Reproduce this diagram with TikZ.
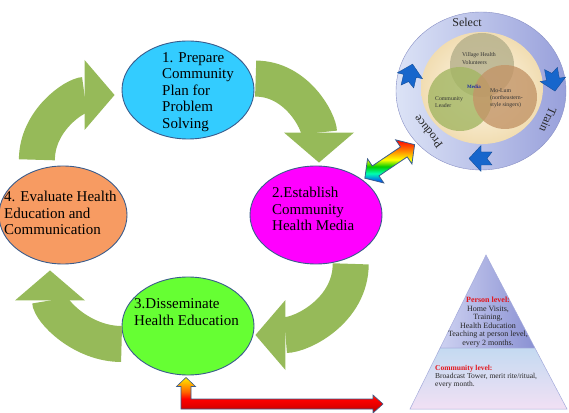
\documentclass[tikz,border=0pt]{standalone}
\usepackage{fontspec}
\setmainfont{Liberation Serif}
\usepackage{tikz}
\usetikzlibrary{arrows.meta,calc,positioning,shapes.geometric}

\definecolor{stageline}{HTML}{3A5C8C}
\definecolor{plancyan}{HTML}{33CCFF}
\definecolor{mediamag}{HTML}{FF00FF}
\definecolor{dissgreen}{HTML}{66FF33}
\definecolor{evalorange}{HTML}{F79B62}
\definecolor{cyclegreen}{HTML}{96BA59}
\definecolor{ringlight}{HTML}{DCE3F6}
\definecolor{ringdark}{HTML}{98A0DB}
\definecolor{creamin}{HTML}{FFF9EC}
\definecolor{creamout}{HTML}{F1DDB2}
\definecolor{vennvol}{HTML}{B4AF8A}
\definecolor{vennlead}{HTML}{A3B663}
\definecolor{vennlum}{HTML}{C39568}
\definecolor{mediablue}{HTML}{1F2FA0}
\definecolor{flowblue}{HTML}{1766CC}
\definecolor{lvlred}{HTML}{E3141B}
\definecolor{pyrtopL}{HTML}{CDD1F1}
\definecolor{pyrtopR}{HTML}{8A91D3}
\definecolor{pyrbotT}{HTML}{C4DAF1}
\definecolor{pyrbotB}{HTML}{F1E0F4}
\definecolor{pyrline}{HTML}{A4AADB}

\pgfdeclareverticalshading{rainbow}{100bp}{color(0bp)=(blue!80!cyan); color(25bp)=(blue!80!cyan);
	color(36bp)=(cyan!70!green); color(44bp)=(green!80!black); color(52bp)=(yellow);
	color(63bp)=(orange); color(75bp)=(red); color(100bp)=(red)}
\pgfdeclareverticalshading{elbow}{100bp}{color(0bp)=(red!70!black); color(25bp)=(red!70!black);
	color(36bp)=(red!90!black); color(45bp)=(red); color(55bp)=(orange!80!red);
	color(75bp)=(yellow!85!orange); color(100bp)=(yellow!85!orange)}

\tikzset{
	stage/.style={ellipse, draw=stageline, line width=.9pt, minimum width=132pt,
		minimum height=98pt, inner sep=0pt},
	stage text/.style={font=\fontsize{15}{16.5}\selectfont, align=left, inner sep=0pt, anchor=west},
	cycle arrow/.style={draw=cyclegreen, line width=36pt,
		-{Triangle[width=70pt,length=30pt,line width=0pt]}},
	venn set/.style={circle, minimum size=64pt, inner sep=0pt, fill opacity=.8},
	venn text/.style={font=\fontsize{5.8}{7.2}\selectfont, align=left, inner sep=0pt,
		anchor=west, text=black!80},
	ring text/.style={font=\fontsize{12}{12}\selectfont, inner sep=0pt, text=black!85},
	flow arrow/.style={fill=flowblue, draw=flowblue!70!black, line width=.3pt},
	pyr text/.style={font=\fontsize{8}{8.6}\selectfont, inner sep=0pt, text=black!85},
	link/.style={draw=stageline, line width=.8pt}
}

\begin{document}
\begin{tikzpicture}[x=1pt, y=1pt]
	\useasboundingbox (0,0) rectangle (569,412);

	% the four stages
	\node[stage, fill=plancyan] (S1) at (188,322) {};
	\node[stage, fill=mediamag] (S2) at (316,197) {};
	\node[stage, fill=dissgreen] (S3) at (188,86) {};
	\node[stage, fill=evalorange, minimum width=128pt] (S4) at (63,197) {};
	\node[stage text] (S1t) at ([shift={(-26,-2)}]S1.center) {1. Prepare\\Community\\Plan for\\Problem\\Solving};
	\node[stage text] (S2t) at ([shift={(-44,6)}]S2.center) {2.Establish\\Community\\Health Media};
	\node[stage text] (S3t) at ([shift={(-54,14)}]S3.center) {3.Disseminate\\Health Education};
	\node[stage text] (S4t) at ([shift={(-59,2)}]S4.center) {4. Evaluate Health\\Education and\\Communication};

	% cycle arrows
	\draw[cycle arrow] ([yshift=10]S4.120) to[out=90,in=180] ([shift={(-7,-5)}]S1.west);
	\draw[cycle arrow] ([xshift=3]S1.10) to[out=0,in=90] ([shift={(3,3)}]S2.north);
	\draw[cycle arrow] ([shift={(4,-5)}]S2.-55) to[out=-90,in=0] ([shift={(1,-9)}]S3.east);
	\draw[cycle arrow] ([yshift=-18]S3.west) to[out=180,in=-90] ([shift={(-13,-6)}]S4.south);

	% media circle
	\node[ellipse, minimum width=170pt, minimum height=158pt, inner sep=0pt,
		left color=ringlight, right color=ringdark, draw=ringdark!90!black, line width=.4pt] (V) at (481,321) {};
	\node[ellipse, minimum width=122pt, minimum height=112pt, inner sep=0pt,
		inner color=creamin, outer color=creamout] (C) at (482,324) {};
	\node[venn set, fill=vennvol] (Vv) at (482,347) {};
	\node[venn set, fill=vennlead] (Vl) at (460,313) {};
	\node[venn set, fill=vennlum] (Vm) at (505,315) {};
	\node[venn text] at (462,353.5) {Village Health\\Volunteers};
	\node[venn text, anchor=center, font=\fontsize{5}{6}\selectfont\bfseries, text=mediablue] at (474,325) {Media};
	\node[venn text] at (435,310) {Community\\Leader};
	\node[venn text] at (490,313.5) {Mo-Lum\\(northeastern-\\style singers)};
	\node[ring text] at (467,390) {Select};
	\node[ring text, rotate=-114] at (548,292) {Train};
	\node[ring text, rotate=128] at (428,280) {Produce};
	\foreach \a/\d in {167/77, 10/-80, -90/180}
		\filldraw[flow arrow, shift={($(V.center)+(\a:73 and 67.5)$)}, rotate=\d]
			(12,0) -- (0,13) -- (0,6.5) -- (-11,6.5) -- (-6,0) -- (-11,-6.5) -- (0,-6.5) -- (0,-13) -- cycle;

	% link between stage 2 and the media circle
	\begin{scope}[shift={($(S2.37)!.5!(V.219)$)}, rotate=34]
		\shadedraw[shading=rainbow, link] (30,0) -- (17,14.5) -- (17,6) -- (-17,6) -- (-17,14.5)
			-- (-30,0) -- (-17,-14.5) -- (-17,-6) -- (17,-6) -- (17,-14.5) -- cycle;
	\end{scope}

	% levels pyramid
	\coordinate (P1) at (410,3);
	\coordinate (P2) at (567,3);
	\coordinate (P3) at (486,157);
	\coordinate (Q1) at ($(P1)!.396!(P3)$);
	\coordinate (Q2) at ($(P2)!.396!(P3)$);
	\shadedraw[left color=pyrtopL, right color=pyrtopR, draw=pyrline, line width=.5pt] (Q1) -- (P3) -- (Q2) -- cycle;
	\shadedraw[top color=pyrbotT, bottom color=pyrbotB, draw=pyrline, line width=.5pt] (P1) -- (P2) -- (Q2) -- (Q1) -- cycle;
	\node[pyr text, align=center] (Pp) at (488,90) {\textcolor{lvlred}{\textbf{Person level:}}\\Home Visits,\\Training,\\Health Education\\Teaching at person level,\\every 2 months.};
	\node[pyr text, align=left, anchor=west, font=\fontsize{7.5}{8}\selectfont] (Pc) at (435,35) {\textcolor{lvlred}{\textbf{Community level:}}\\Broadcast Tower, merit rite/ritual,\\every month.};

	% elbow arrow from stage 3 to the pyramid
	\coordinate (up) at ([shift={(-2,-2)}]S3.south);
	\coordinate (rt) at ([shift={(-27,5)}]P1);
	\shadedraw[shading=elbow, link, line width=.6pt] (up) -- ++(9.5,-9) -- ++(-4.5,0) |- ($(rt)+(-10,5)$)
		-- ++(0,4) -- (rt) -- ++(-10,-9) -- ++(0,4) -| ($(up)+(-5,-9)$) -- ++(-4.5,0) -- cycle;
\end{tikzpicture}
\end{document}
